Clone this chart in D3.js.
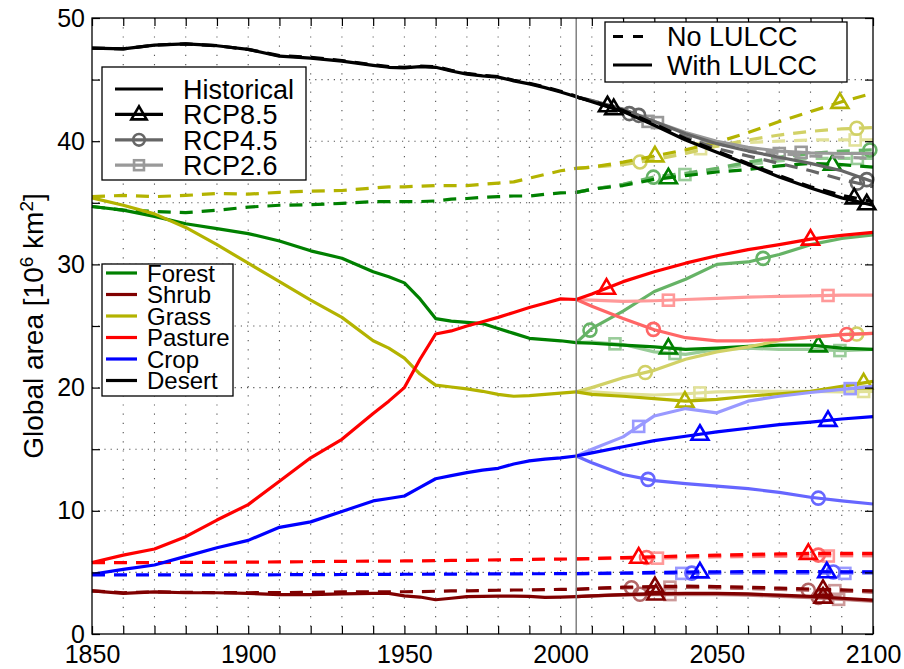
<!DOCTYPE html>
<html lang="en">
<head>
<meta charset="utf-8">
<title>Global area by land type</title>
<script src="https://d3js.org/d3.v7.min.js"></script>
<style>
  body { margin: 0; background: #fff; }
  svg text { font-family: "Liberation Sans", Arial, Helvetica, sans-serif; fill: #000; }
</style>
</head>
<body>
<div id="chart"></div>
<script>
// ---- data (10^6 km^2) ----
var types = ["Forest", "Shrub", "Grass", "Pasture", "Crop", "Desert"];
var typeColors = ["#008000", "#800000", "#b3b300", "#ff0000", "#0000ff", "#000000"];
var rcps = ["RCP8.5", "RCP4.5", "RCP2.6"];
var rcpShapes = ["triangle", "circle", "square"];
var rcpLighten = [0, 0.4, 0.6];

var histYears = [1850, 1860, 1870, 1880, 1890, 1900, 1910, 1920, 1930, 1940, 1945, 1950,
                 1955, 1960, 1965, 1970, 1975, 1980, 1985, 1990, 1995, 2000, 2005];
var futYears = [2005, 2010, 2020, 2030, 2040, 2050, 2060, 2070, 2080, 2090, 2100];

// historical, with LULCC / without LULCC
var forestHist   = [34.7, 34.4, 33.9, 33.3, 32.9, 32.5, 31.9, 31.1, 30.5, 29.4, 29.0, 28.5, 27.2, 25.6, 25.4, 25.3, 25.2, 24.8, 24.4, 24.0, 23.9, 23.8, 23.65];
var forestHistNo = [34.7, 34.4, 34.3, 34.2, 34.4, 34.65, 34.8, 34.85, 34.95, 35.1, 35.1, 35.1, 35.1, 35.15, 35.3, 35.35, 35.45, 35.5, 35.55, 35.55, 35.7, 35.8, 35.85];
var shrubHist    = [3.5, 3.3, 3.42, 3.35, 3.35, 3.3, 3.2, 3.2, 3.25, 3.3, 3.3, 3.1, 3.0, 2.78, 2.9, 3.03, 3.05, 3.07, 3.08, 3.05, 2.98, 3.0, 3.03];
var shrubHistNo  = [3.5, 3.35, 3.42, 3.38, 3.36, 3.35, 3.36, 3.38, 3.42, 3.43, 3.43, 3.43, 3.44, 3.47, 3.5, 3.5, 3.53, 3.55, 3.57, 3.57, 3.6, 3.62, 3.63];
var grassHist    = [35.4, 34.8, 34.1, 33.0, 31.6, 30.1, 28.6, 27.1, 25.7, 23.8, 23.2, 22.4, 21.1, 20.2, 20.05, 19.9, 19.7, 19.45, 19.3, 19.35, 19.45, 19.55, 19.65];
var grassHistNo  = [35.5, 35.6, 35.5, 35.6, 35.75, 35.7, 35.85, 35.95, 36.0, 36.2, 36.3, 36.3, 36.35, 36.4, 36.4, 36.4, 36.5, 36.6, 36.7, 37.0, 37.3, 37.6, 37.8];
var pastureHist  = [5.8, 6.4, 6.9, 7.9, 9.25, 10.5, 12.4, 14.3, 15.8, 17.9, 18.9, 20.0, 22.3, 24.35, 24.6, 25.0, 25.35, 25.7, 26.1, 26.5, 26.85, 27.2, 27.15];
var pastureHistNo = [5.8, 5.8, 5.8, 5.81, 5.82, 5.83, 5.85, 5.87, 5.9, 5.91, 5.92, 5.93, 5.94, 5.95, 5.97, 5.98, 6.0, 6.02, 6.03, 6.05, 6.07, 6.08, 6.1];
var cropHist     = [4.85, 5.25, 5.6, 6.3, 7.0, 7.6, 8.66, 9.1, 9.95, 10.8, 11.0, 11.2, 11.9, 12.6, 12.85, 13.1, 13.3, 13.45, 13.8, 14.05, 14.2, 14.3, 14.45];
var cropHistNo   = [4.8, 4.8, 4.8, 4.8, 4.8, 4.8, 4.81, 4.82, 4.83, 4.84, 4.84, 4.85, 4.85, 4.86, 4.86, 4.87, 4.87, 4.88, 4.88, 4.89, 4.89, 4.9, 4.9];
var desertHist   = [47.55, 47.5, 47.8, 47.9, 47.75, 47.45, 46.9, 46.75, 46.5, 46.15, 46.0, 45.95, 46.05, 46.0, 45.7, 45.45, 45.3, 45.2, 44.9, 44.65, 44.35, 44.0, 43.6];
var desertHistNo = [47.55, 47.5, 47.8, 47.9, 47.75, 47.45, 46.95, 46.8, 46.55, 46.2, 46.05, 46.0, 46.1, 46.05, 45.75, 45.5, 45.35, 45.25, 44.95, 44.7, 44.4, 44.05, 43.65];

// future, [RCP8.5, RCP4.5, RCP2.6]
var forestWith = [[23.65, 23.6, 23.45, 23.3, 23.1, 23.2, 23.35, 23.45, 23.45, 23.2, 23.1],
                  [23.65, 24.8, 26.2, 27.8, 28.8, 30.0, 30.2, 30.8, 31.6, 32.1, 32.4],
                  [23.65, 23.7, 23.5, 22.9, 22.7, 23.1, 23.2, 23.1, 23.1, 23.0, 23.1]];
var forestNo   = [[35.85, 36.1, 36.4, 36.9, 37.2, 37.5, 37.7, 38.0, 38.2, 38.1, 37.9],
                  [35.85, 36.1, 36.5, 37.1, 37.4, 37.8, 38.3, 38.7, 39.0, 39.2, 39.3],
                  [35.85, 36.1, 36.5, 37.0, 37.3, 37.7, 38.1, 38.4, 38.6, 38.6, 38.6]];
var shrubWith  = [[3.03, 3.1, 3.2, 3.25, 3.3, 3.3, 3.25, 3.15, 3.05, 2.9, 2.75],
                  [3.03, 3.1, 3.2, 3.25, 3.25, 3.25, 3.2, 3.1, 3.0, 2.85, 2.7],
                  [3.03, 3.1, 3.15, 3.2, 3.2, 3.2, 3.15, 3.05, 2.95, 2.8, 2.65]];
var shrubNo    = [[3.63, 3.7, 3.8, 3.85, 3.88, 3.85, 3.8, 3.72, 3.65, 3.58, 3.5],
                  [3.63, 3.68, 3.75, 3.78, 3.78, 3.75, 3.7, 3.62, 3.55, 3.48, 3.4],
                  [3.63, 3.68, 3.76, 3.8, 3.8, 3.78, 3.72, 3.65, 3.58, 3.5, 3.42]];
var grassWith  = [[19.65, 19.45, 19.3, 19.1, 18.9, 19.05, 19.3, 19.5, 19.7, 20.1, 20.5],
                  [19.65, 20.0, 20.8, 21.4, 22.3, 22.9, 23.3, 23.8, 24.1, 24.3, 24.4],
                  [19.65, 19.65, 19.5, 19.4, 19.5, 19.65, 19.7, 19.7, 19.7, 19.65, 19.7]];
var grassNo    = [[37.8, 37.9, 38.3, 38.8, 39.3, 39.9, 40.7, 41.6, 42.4, 43.2, 43.9],
                  [37.8, 37.9, 38.1, 38.5, 39.0, 39.6, 40.1, 40.5, 40.8, 41.0, 41.1],
                  [37.8, 37.9, 38.2, 38.7, 39.2, 39.6, 39.9, 40.0, 40.1, 40.1, 40.1]];
var pastureWith = [[27.15, 27.6, 28.6, 29.4, 30.1, 30.7, 31.2, 31.6, 32.05, 32.35, 32.6],
                   [27.15, 26.6, 25.6, 24.7, 24.05, 23.8, 23.8, 23.9, 24.1, 24.3, 24.4],
                   [27.15, 27.1, 27.0, 27.05, 27.15, 27.25, 27.35, 27.4, 27.45, 27.5, 27.5]];
var pastureNo  = [[6.1, 6.12, 6.2, 6.27, 6.33, 6.4, 6.45, 6.5, 6.55, 6.55, 6.55],
                  [6.1, 6.12, 6.18, 6.22, 6.28, 6.32, 6.35, 6.38, 6.4, 6.42, 6.42],
                  [6.1, 6.12, 6.14, 6.15, 6.2, 6.25, 6.28, 6.3, 6.33, 6.33, 6.33]];
var cropWith   = [[14.45, 14.7, 15.2, 15.7, 16.05, 16.4, 16.7, 17.0, 17.2, 17.45, 17.65],
                  [14.45, 13.9, 12.95, 12.45, 12.2, 12.0, 11.8, 11.5, 11.1, 10.8, 10.55],
                  [14.45, 15.0, 16.0, 17.7, 18.3, 17.95, 18.9, 19.3, 19.6, 19.85, 20.1]];
var cropNo     = [[4.9, 4.92, 4.95, 5.0, 5.03, 5.05, 5.06, 5.06, 5.06, 5.05, 5.05],
                  [4.9, 4.91, 4.92, 4.93, 4.94, 4.95, 4.97, 5.0, 5.02, 5.03, 5.03],
                  [4.9, 4.9, 4.91, 4.92, 4.92, 4.93, 4.93, 4.93, 4.92, 4.92, 4.92]];
var desertWith = [[43.6, 43.2, 42.4, 41.3, 40.1, 39.1, 38.1, 37.1, 36.2, 35.4, 34.8],
                  [43.6, 43.3, 42.6, 41.6, 40.6, 39.8, 39.2, 38.7, 38.2, 37.6, 36.7],
                  [43.6, 43.3, 42.6, 41.6, 40.7, 40.0, 39.5, 39.2, 39.05, 39.0, 39.0]];
var desertNo   = [[43.6, 43.25, 42.5, 41.4, 40.2, 39.2, 38.2, 37.2, 36.3, 35.6, 35.1],
                  [43.6, 43.25, 42.45, 41.4, 40.3, 39.4, 38.8, 38.2, 37.6, 36.9, 36.3],
                  [43.6, 43.25, 42.45, 41.4, 40.4, 39.8, 39.3, 39.0, 38.8, 38.7, 38.6]];

// years where markers sit on each future line
var forestMarkWith  = [[2034.5, 2082.5], [2009.4, 2064.8], [2017.4, 2036.6, 2089.4]];
var forestMarkNo    = [[2034.5, 2087], [2029.7, 2099], [2039.8, 2095]];
var shrubMarkWith   = [[2030.5, 2084], [2025.4, 2082.5], [2035, 2089]];
var shrubMarkNo     = [[2030.2, 2084], [2022.7, 2079.3], [2035, 2087.8]];
var grassMarkWith   = [[2039.8, 2097], [2027.1, 2094.8], [2044.6, 2097]];
var grassMarkNo     = [[2030.2, 2089.4], [2025.4, 2094.8], [2044.8, 2094.3]];
var pastureMarkWith = [[2014.7, 2080], [2029.7, 2091.6], [2034.5, 2085.6]];
var pastureMarkNo   = [[2025, 2079.3], [2027.5, 2082.5], [2031, 2085.7]];
var cropMarkWith    = [[2044.6, 2085.6], [2028, 2082.5], [2025, 2092.7]];
var cropMarkNo      = [[2044.6, 2085.2], [2042, 2087.3], [2038.8, 2091]];
var desertMarkWith  = [[2017, 2098], [2025, 2098], [2031, 2077]];
var desertMarkNo    = [[2015, 2094], [2022, 2095], [2028, 2070]];

var xTicks = d3.range(1850, 2101, 10);
var yTicks = d3.range(0, 51, 5);

// ---- layout ----
var w = 904, h = 669;
var pL = 92, pR = 873, pT = 18, pB = 634;

var x = d3.scaleLinear().domain([1850, 2100]).range([pL, pR]);
var y = d3.scaleLinear().domain([0, 50]).range([pB, pT]);

var svg = d3.select("#chart").append("svg")
  .attr("width", w).attr("height", h);

// grid
svg.append("g").selectAll("line").data(xTicks.slice(1, -1)).enter().append("line")
  .attr("x1", d => x(d)).attr("x2", d => x(d)).attr("y1", pT).attr("y2", pB)
  .attr("stroke", "#555").attr("stroke-width", 1.1).attr("stroke-dasharray", "1.2,8");
svg.append("g").selectAll("line").data(yTicks.slice(1, -1)).enter().append("line")
  .attr("x1", pL).attr("x2", pR).attr("y1", d => y(d)).attr("y2", d => y(d))
  .attr("stroke", "#555").attr("stroke-width", 1.1).attr("stroke-dasharray", "1.2,5");

// series
var histTables = [[forestHist, forestHistNo], [shrubHist, shrubHistNo], [grassHist, grassHistNo],
                  [pastureHist, pastureHistNo], [cropHist, cropHistNo], [desertHist, desertHistNo]];
var futTables = [[forestWith, forestNo], [shrubWith, shrubNo], [grassWith, grassNo],
                 [pastureWith, pastureNo], [cropWith, cropNo], [desertWith, desertNo]];
var markTables = [[forestMarkWith, forestMarkNo], [shrubMarkWith, shrubMarkNo], [grassMarkWith, grassMarkNo],
                  [pastureMarkWith, pastureMarkNo], [cropMarkWith, cropMarkNo], [desertMarkWith, desertMarkNo]];

var line = d3.line().x(d => x(d[0])).y(d => y(d[1]));
var dash = "13,9";
var lineW = 3.2;

function shade(c, k) { return d3.interpolateRgb(c, "#ffffff")(k); }

function marker(g, shape, cx, cy, color, s) {
  s = s || 1;
  if (shape == "triangle") {
    g.append("path")
      .attr("d", "M" + cx + "," + (cy - 9 * s) + "L" + (cx + 8.5 * s) + "," + (cy + 5.5 * s) +
                 "L" + (cx - 8.5 * s) + "," + (cy + 5.5 * s) + "Z")
      .attr("fill", "none").attr("stroke", color).attr("stroke-width", 2.6);
  } else if (shape == "circle") {
    g.append("circle").attr("cx", cx).attr("cy", cy).attr("r", 6.5 * s)
      .attr("fill", "none").attr("stroke", color).attr("stroke-width", 2.6);
  } else {
    g.append("rect").attr("x", cx - 5.5 * s).attr("y", cy - 5.5 * s)
      .attr("width", 11 * s).attr("height", 11 * s)
      .attr("fill", "none").attr("stroke", color).attr("stroke-width", 2.6);
  }
}

var plot = svg.append("g");

// historical
types.forEach(function (t, i) {
  var pair = histTables[i];
  [1, 0].forEach(function (k) {
    plot.append("path")
      .datum(histYears.map((yr, j) => [yr, pair[k][j]]))
      .attr("d", line)
      .attr("fill", "none")
      .attr("stroke", typeColors[i])
      .attr("stroke-width", lineW)
      .attr("stroke-dasharray", k == 1 ? dash : null)
      .attr("stroke-linejoin", "round");
  });
});

// future: lighter scenarios first
types.forEach(function (t, i) {
  [2, 1, 0].forEach(function (r) {
    var color = shade(typeColors[i], rcpLighten[r]);
    [1, 0].forEach(function (k) {
      var vals = futTables[i][k][r];
      var pts = futYears.map((yr, j) => [yr, vals[j]]);
      plot.append("path")
        .datum(pts)
        .attr("d", line)
        .attr("fill", "none")
        .attr("stroke", color)
        .attr("stroke-width", lineW)
        .attr("stroke-dasharray", k == 1 ? dash : null)
        .attr("stroke-linejoin", "round");
      markTables[i][k][r].forEach(function (yr) {
        // place marker on its line
        var v = d3.scaleLinear().domain(futYears).range(vals)(yr);
        marker(plot, rcpShapes[r], x(yr), y(v), color);
      });
    });
  });
});

// 2005 divider
svg.append("line")
  .attr("x1", x(2005)).attr("x2", x(2005)).attr("y1", pT).attr("y2", pB)
  .attr("stroke", "#808080").attr("stroke-width", 1.5);

// axes
var fmtX = d => (d % 50 == 0 ? d : "");
var fmtY = d => (d % 10 == 0 ? d : "");
var ax = svg.append("g").attr("transform", "translate(0," + pB + ")")
  .call(d3.axisBottom(x).tickValues(xTicks).tickSize(-8).tickPadding(11).tickFormat(fmtX));
var ay = svg.append("g").attr("transform", "translate(" + pL + ",0)")
  .call(d3.axisLeft(y).tickValues(yTicks).tickSize(-8).tickPadding(7).tickFormat(fmtY));
var at = svg.append("g").attr("transform", "translate(0," + pT + ")")
  .call(d3.axisTop(x).tickValues(xTicks).tickSize(-8).tickFormat(""));
var ar = svg.append("g").attr("transform", "translate(" + pR + ",0)")
  .call(d3.axisRight(y).tickValues(yTicks).tickSize(-8).tickFormat(""));
[ax, ay, at, ar].forEach(function (a) {
  a.attr("font-size", 25).attr("font-family", null);
  a.select(".domain").remove();
  a.selectAll(".tick line").attr("stroke", "#000").attr("stroke-width", 1.2);
  a.selectAll("text").attr("fill", "#000");
});
svg.append("rect")
  .attr("x", pL).attr("y", pT).attr("width", pR - pL).attr("height", pB - pT)
  .attr("fill", "none").attr("stroke", "#000").attr("stroke-width", 1.3);

// y label
var yl = svg.append("text")
  .attr("transform", "translate(43," + ((pT + pB) / 2) + ") rotate(-90)")
  .attr("text-anchor", "middle")
  .attr("font-size", 28);
yl.append("tspan").text("Global area [10");
yl.append("tspan").attr("baseline-shift", "super").attr("font-size", 19).text("6");
yl.append("tspan").text(" km");
yl.append("tspan").attr("baseline-shift", "super").attr("font-size", 19).text("2");
yl.append("tspan").text("]");

// legend: scenarios
var lg1 = svg.append("g");
lg1.append("rect").attr("x", 102).attr("y", 67).attr("width", 204).attr("height", 113)
  .attr("fill", "#fff").attr("stroke", "#000").attr("stroke-width", 1.3);
var lg1Labels = ["Historical"].concat(rcps);
var lg1Colors = ["#000", shade("#000000", 0), shade("#000000", 0.4), shade("#000000", 0.6)];
lg1Labels.forEach(function (lab, i) {
  var yy = 89 + i * 25.4;
  lg1.append("line").attr("x1", 115).attr("x2", 163).attr("y1", yy).attr("y2", yy)
    .attr("stroke", lg1Colors[i]).attr("stroke-width", lineW);
  if (i > 0) marker(lg1, rcpShapes[i - 1], 139, yy, lg1Colors[i], 0.9);
  lg1.append("text").attr("x", 183).attr("y", yy).attr("dy", "0.36em")
    .attr("font-size", 27).text(lab);
});

// legend: land types
var lg2 = svg.append("g");
lg2.append("rect").attr("x", 102).attr("y", 264).attr("width", 131).attr("height", 132)
  .attr("fill", "#fff").attr("stroke", "#000").attr("stroke-width", 1.3);
types.forEach(function (t, i) {
  var yy = 273 + i * 21.5;
  lg2.append("line").attr("x1", 106).attr("x2", 137).attr("y1", yy).attr("y2", yy)
    .attr("stroke", typeColors[i]).attr("stroke-width", lineW);
  lg2.append("text").attr("x", 147).attr("y", yy).attr("dy", "0.36em")
    .attr("font-size", 24).text(t);
});

// legend: line styles
var lg3 = svg.append("g");
lg3.append("rect").attr("x", 605).attr("y", 22).attr("width", 242).attr("height", 60)
  .attr("fill", "#fff").attr("stroke", "#000").attr("stroke-width", 1.3);
[["No LULCC", true], ["With LULCC", false]].forEach(function (d, i) {
  var yy = 36.5 + i * 28.5;
  lg3.append("line").attr("x1", 613).attr("x2", d[1] ? 643 : 652).attr("y1", yy).attr("y2", yy)
    .attr("stroke", "#000").attr("stroke-width", lineW)
    .attr("stroke-dasharray", d[1] ? "10,10" : null);
  lg3.append("text").attr("x", 667).attr("y", yy).attr("dy", "0.36em")
    .attr("font-size", 27).text(d[0]);
});
</script>
</body>
</html>
